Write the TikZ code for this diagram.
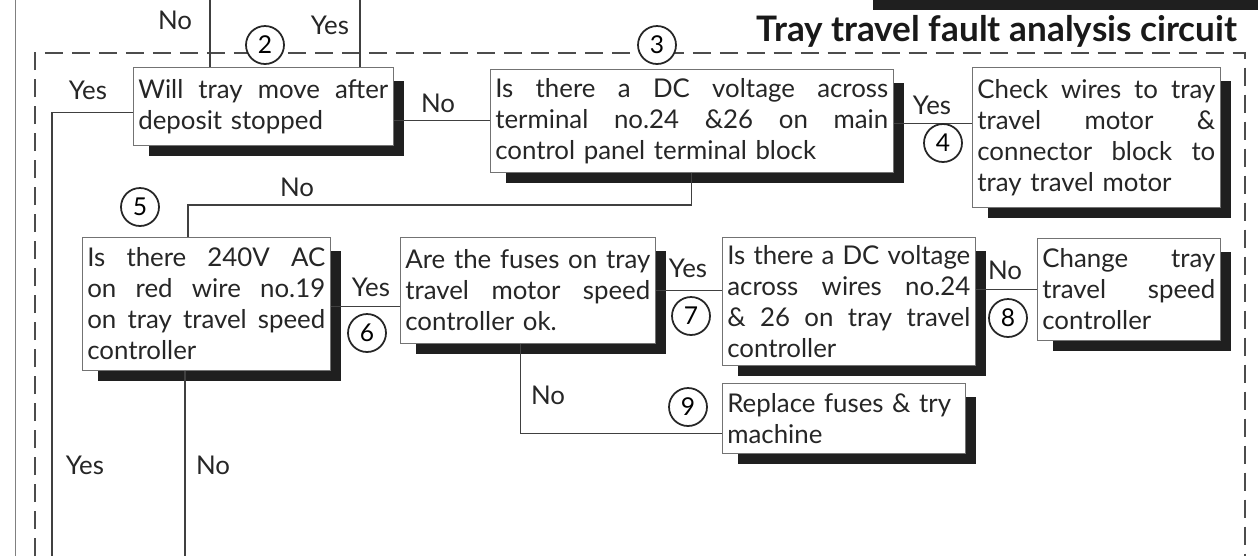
\documentclass[tikz,border=0pt]{standalone}
\usepackage{fontspec}
\setmainfont{Lato}
\usetikzlibrary{backgrounds}
% one line of a box, spread to the full width
\newcommand{\jl}[1]{\makebox[\linewidth][s]{\spaceskip=0pt\xspaceskip=0pt\relax #1}}

\begin{document}
\begin{tikzpicture}[x=0.02cm, y=-0.02cm,
    line/.style={draw=black!75, line width=0.6pt},
    box/.style={draw=black!55, fill=white, anchor=north west, align=left,
        inner xsep=0.1cm, inner ysep=0.08cm, text=black!85,
        font=\fontsize{14.7}{17.6}\selectfont},
    numc/.style={circle, draw=black!85, fill=white, line width=1pt,
        inner sep=0pt, minimum size=0.76cm, font=\fontsize{14}{14}\selectfont},
    lbl/.style={text=black!85, font=\fontsize{14.7}{14.7}\selectfont},
    shadowfill/.style={fill=black!88}]
    \useasboundingbox (0,0) rectangle (1259,556);

    % outer line and the shadow of the box above
    \draw[black!50] (15,0) -- (15,556);
    \fill[shadowfill] (873,0) rectangle (1258,10);

    % dashed frame with its title
    \draw[black!70, line width=0.8pt, dash pattern=on 0.36cm off 0.18cm]
        (35,556) -- (35,53) -- (1245,53) -- (1245,556);
    \node[anchor=south east, inner sep=3pt, text=black!90,
        font=\fontsize{20}{20}\selectfont\bfseries] (title) at (1243,53)
        {Tray travel fault analysis circuit};

    % free ends of the connectors
    \coordinate (topNo) at (210,0);
    \coordinate (topYes) at (360,0);
    \coordinate (outYes) at (52,556);
    \coordinate (outNo) at (185,556);
    \coordinate (j35) at (188,205);

    % === boxes ===
    \node[box, text width=5.0cm, minimum height=1.56cm] (q2) at (133,67)
        {\jl{Will tray move after}\\deposit stopped};
    \node[box, text width=7.86cm, minimum height=2.06cm] (q3) at (490,69)
        {\jl{Is there a DC voltage across}\\\jl{terminal no.24 \&26 on main}\\control panel terminal block};
    \node[box, text width=4.76cm, minimum height=2.8cm] (q4) at (972,67)
        {\jl{Check wires to tray}\\\jl{travel motor \&}\\\jl{connector block to}\\tray travel motor};
    \node[box, text width=4.76cm, minimum height=2.66cm] (q5) at (82,237)
        {\jl{Is there 240V AC}\\\jl{on red wire no.19}\\\jl{on tray travel speed}\\controller};
    \node[box, text width=4.9cm, minimum height=2.12cm] (q6) at (400,237)
        {\jl{Are the fuses on tray}\\\jl{travel motor speed}\\controller ok.};
    \node[box, text width=4.86cm, minimum height=2.56cm] (q7) at (722,237)
        {\jl{Is there a DC voltage}\\\jl{across wires no.24}\\\jl{\& 26 on tray travel}\\controller};
    \node[box, text width=3.46cm, minimum height=2.04cm] (q8) at (1037,238)
        {\jl{Change tray}\\\jl{travel speed}\\controller};
    \node[box, text width=4.66cm, minimum height=1.4cm] (q9) at (722,383)
        {Replace fuses \& try\\machine};

    % shadows behind the boxes
    \begin{scope}[on background layer]
        \foreach \b in {q2,q3,q4,q5,q6,q7,q8,q9}
            \fill[shadowfill] ([shift={(0.32cm,-0.2cm)}]\b.south west)
                rectangle ([shift={(0.2cm,-0.28cm)}]\b.north east);
    \end{scope}

    % === connectors ===
    \draw[line] (topNo) -- (topNo |- q2.north);
    \draw[line] (topYes) -- (topYes |- q2.north);
    \draw[line] ([yshift=-0.12cm]q2.west) -| (outYes);
    \draw[line] (q2.east |- q3.west) -- (q3.west);
    \draw[line] ([yshift=-0.05cm]q3.east) -- ([yshift=-0.05cm]q3.east -| q4.west);
    \draw[line] (q3.south) |- (j35) -- (j35 |- q5.north);
    \draw[line] ([yshift=-0.06cm]q5.east) -- ([yshift=-0.06cm]q5.east -| q6.west);
    \draw[line] (q6.east) -- (q6.east -| q7.west);
    \draw[line] (q8.west -| q7.east) -- (q8.west);
    \draw[line] ([xshift=-0.15cm]q6.south) |- ([yshift=-0.3cm]q9.west);
    \draw[line] (q5.south -| outNo) -- (outNo);

    % === labels ===
    \node[lbl] (lNo1) at (175,20) {No};
    \node[lbl] (lYes1) at (330,25) {Yes};
    \node[lbl] (lYes2) at (88,90) {Yes};
    \node[lbl] (lNo2) at (438,103) {No};
    \node[lbl] (lYes3) at (932,105) {Yes};
    \node[lbl] (lNo3) at (297,187) {No};
    \node[lbl] (lYes4) at (371,287) {Yes};
    \node[lbl] (lYes5) at (688,268) {Yes};
    \node[lbl] (lNo4) at (1005,270) {No};
    \node[lbl] (lNo5) at (548,395) {No};
    \node[lbl] (lYes6) at (85,465) {Yes};
    \node[lbl] (lNo6) at (213,465) {No};

    % === step numbers ===
    \node[numc] (n2) at (265,45) {2};
    \node[numc] (n3) at (657,45) {3};
    \node[numc] (n4) at (943,143) {4};
    \node[numc] (n5) at (140,207) {5};
    \node[numc] (n6) at (367,333) {6};
    \node[numc] (n7) at (691,316) {7};
    \node[numc] (n8) at (1008,318) {8};
    \node[numc] (n9) at (688,407) {9};
\end{tikzpicture}
\end{document}
